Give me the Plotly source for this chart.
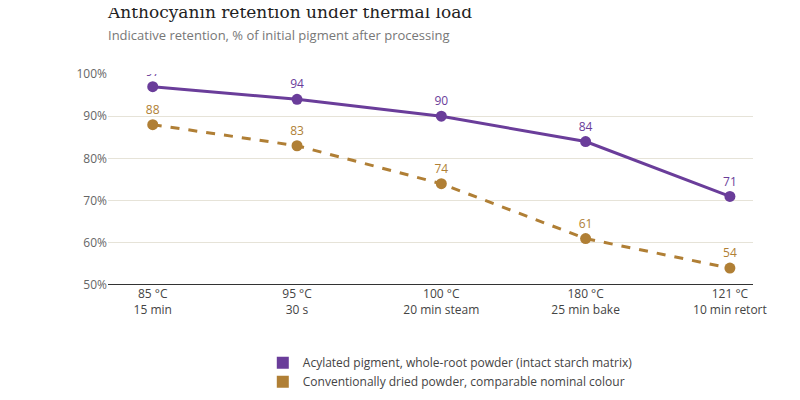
import plotly.graph_objects as go

steps = ["85 °C<br>15 min", "95 °C<br>30 s", "100 °C<br>20 min steam",
         "180 °C<br>25 min bake", "121 °C<br>10 min retort"]
acylated = [97, 94, 90, 84, 71]
conventional = [88, 83, 74, 61, 54]

names = ["Acylated pigment, whole-root powder (intact starch matrix)",
         "Conventionally dried powder, comparable nominal colour"]
purple = "#6a3d9a"
gold = "#b07f35"

fig = go.Figure()
xs = list(range(len(steps)))
for vals, col, dash in [(acylated, purple, "solid"), (conventional, gold, "dash")]:
    fig.add_trace(go.Scatter(
        x=xs, y=vals, mode="lines+markers+text",
        line=dict(color=col, width=3, dash=dash),
        marker=dict(size=11, color=col),
        text=[str(v) for v in vals], textposition="top center",
        textfont=dict(color=col, size=12),
        showlegend=False, hoverinfo="skip",
    ))
# legend swatches
for name, col in zip(names, [purple, gold]):
    fig.add_trace(go.Scatter(
        x=[None], y=[None], mode="markers", name=name,
        marker=dict(symbol="square", size=12, color=col),
    ))

fig.update_layout(
    width=800, height=400,
    margin=dict(l=100, r=55, t=66, b=89),
    paper_bgcolor="white", plot_bgcolor="white",
    font=dict(family="Open Sans, Noto Sans, sans-serif", size=12, color="#444"),
    title=dict(
        text="Anthocyanin retention under thermal load"
             "<br><span style='font-family:Open Sans, sans-serif;font-size:13px;color:#777'>"
             "Indicative retention, % of initial pigment after processing</span>",
        x=100/800, xref="container", xanchor="left", y=0.975, yanchor="top",
        font=dict(family="DejaVu Serif, Liberation Serif, serif", size=17, color="#222"),
    ),
    xaxis=dict(
        range=[-0.31, 4.16], tickvals=xs, ticktext=steps, showgrid=False,
        zeroline=False, showline=False, tickfont=dict(size=12, color="#444"),
    ),
    yaxis=dict(
        range=[50, 100], dtick=10, ticksuffix="%", gridcolor="#e6e3d8",
        zeroline=False, showline=False, tickfont=dict(size=12, color="#666"),
    ),
    shapes=[dict(type="line", xref="paper", yref="y", x0=0, x1=1, y0=50, y1=50,
                 line=dict(color="#333", width=2))],
    legend=dict(x=0.24, xanchor="left", y=-0.3, yanchor="top",
                font=dict(size=12, color="#444"), tracegroupgap=0,
                itemsizing="constant"),
)

fig.write_html("out.html")
